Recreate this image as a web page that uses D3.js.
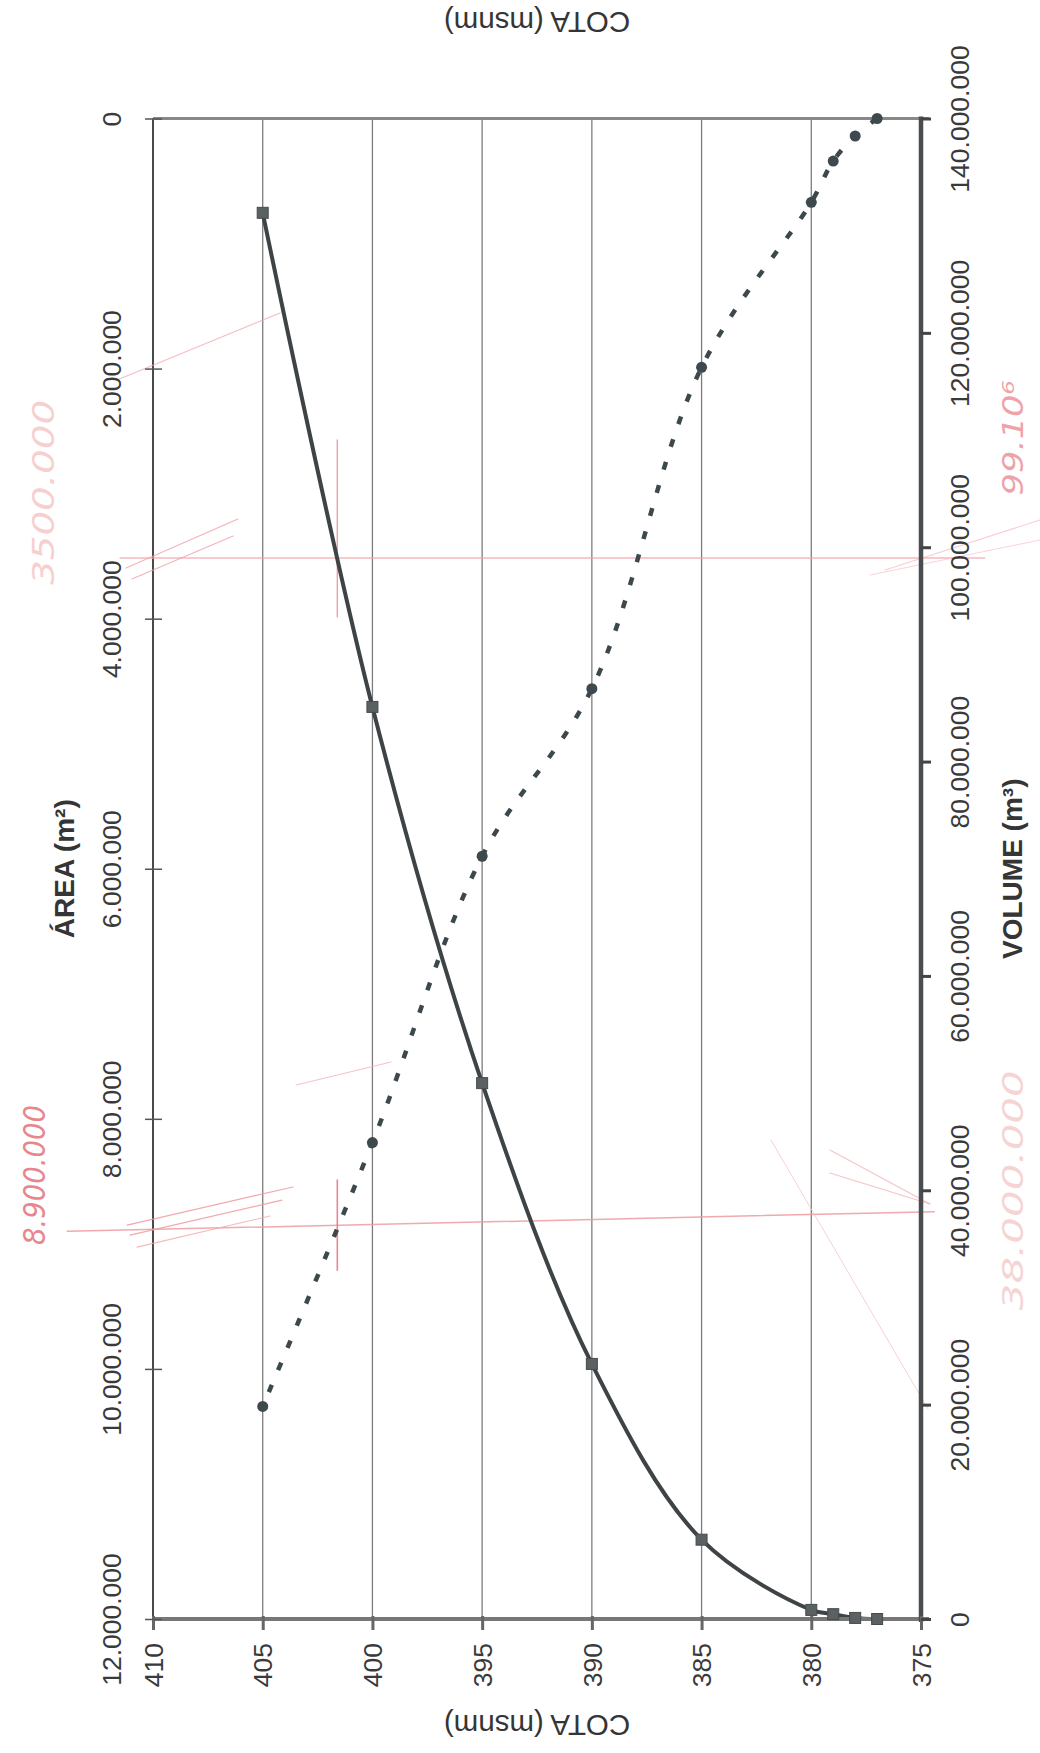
<!DOCTYPE html>
<html>
<head>
<meta charset="utf-8">
<script src="https://cdn.jsdelivr.net/npm/d3@7"></script>
<style>
  html, body { margin: 0; padding: 0; background: #fff; }
  svg { display: block; }
</style>
</head>
<body>
<svg id="chart" width="1040" height="1753"></svg>
<script>
// Curva cota x área x volume do reservatório (folha girada 90°)
const cota = [377, 378, 379, 380, 385, 390, 395, 400, 405];
const area = [0, 140000, 340000, 670000, 1990000, 4560000, 5900000, 8190000, 10300000];
const volume = [0, 100000, 450000, 850000, 7400000, 23800000, 50000000, 85100000, 131200000];

const cotaTicks = [410, 405, 400, 395, 390, 385, 380, 375];
const areaTicks = [0, 2000000, 4000000, 6000000, 8000000, 10000000, 12000000];
const volumeTicks = [0, 20000000, 40000000, 60000000, 80000000, 100000000, 120000000, 140000000];

// Anotações à caneta: leitura na cota 401,6
const notaCota = 401.6;
const notaArea = 8900000;
const notaVolume = 99000000;
const notaVolumeDireita = 38000000;
const notaTextos = ["8.900.000", "3500.000", "99.10⁶", "38.000.000"];

const svg = d3.select("#chart");
const W = 1040, H = 1753;
const pL = 153, pR = 921, pT = 118.5, pB = 1619;

const x = d3.scaleLinear().domain([410, 375]).range([pL, pR]);
const yArea = d3.scaleLinear().domain([0, 12000000]).range([pT, pB]);
const yVol = d3.scaleLinear().domain([0, 140000000]).range([pB, pT]);

const fmt = d3.formatLocale({ decimal: ",", thousands: ".", grouping: [3], currency: ["", ""] }).format(",d");

svg.append("rect").attr("width", W).attr("height", H).attr("fill", "#fff");

// grade vertical nas cotas
svg.append("g").selectAll("line")
  .data(cotaTicks.filter(d => d !== 410 && d !== 375))
  .join("line")
  .attr("x1", d => x(d)).attr("x2", d => x(d))
  .attr("y1", pT).attr("y2", pB)
  .attr("stroke", "#7c7c7c").attr("stroke-width", 1.3);

// bordas da área de plotagem
svg.append("line").attr("x1", pL).attr("x2", pL).attr("y1", pT).attr("y2", pB)
  .attr("stroke", "#4a4a4a").attr("stroke-width", 2);
svg.append("line").attr("x1", pL).attr("x2", pR + 8).attr("y1", pT).attr("y2", pT)
  .attr("stroke", "#888").attr("stroke-width", 3);

// anotações em vermelho
const pen = svg.append("g").attr("fill", "none").attr("stroke-linecap", "round");
const P = (c, a) => [x(c), yArea(a)];
const PV = (c, v) => [x(c), yVol(v)];
const pline = d3.line();
const penStrokes = [
  { pts: [PV(411.5, notaVolume), PV(372.1, notaVolume)], c: "#f2a6ab", w: 1.4, o: 0.8 },
  { pts: [P(413.9, notaArea), PV(374.4, notaVolumeDireita)], c: "#ee9aa0", w: 1.5, o: 0.85 },
  { pts: [PV(notaCota, 110000000), PV(notaCota, 93500000)], c: "#e9878e", w: 1.4, o: 0.8 },
  { pts: [P(notaCota, 8490000), P(notaCota, 9210000)], c: "#e57a82", w: 1.6, o: 0.9 },
  { pts: [P(411.23, 3595000), P(406.13, 3203000)], c: "#f0a0a6", w: 1.2, o: 0.8 },
  { pts: [P(410.96, 3683000), P(406.35, 3339000)], c: "#f0a0a6", w: 1.2, o: 0.8 },
  { pts: [P(411.64, 2091000), P(404.21, 1555000)], c: "#f2aab0", w: 1.2, o: 0.75 },
  { pts: [P(411.18, 8850000), P(403.62, 8545000)], c: "#ee9aa0", w: 1.2, o: 0.85 },
  { pts: [P(411.05, 8930000), P(404.12, 8650000)], c: "#ee9aa0", w: 1.2, o: 0.85 },
  { pts: [P(410.73, 9026000), P(404.67, 8777000)], c: "#f0a8ad", w: 1.1, o: 0.8 },
  { pts: [P(403.48, 7730000), P(399.15, 7545000)], c: "#f2b0b4", w: 1.1, o: 0.75 },
  { pts: [P(376.64, 3611000), P(369.58, 3211000)], c: "#f4b8bc", w: 1.1, o: 0.7 },
  { pts: [P(377.32, 3651000), P(369.58, 3371000)], c: "#f4b8bc", w: 1.1, o: 0.6 },
  { pts: [P(379.15, 8249000), P(374.59, 8681000)], c: "#f2b0b4", w: 1.1, o: 0.75 },
  { pts: [P(379.15, 8433000), P(374.59, 8681000)], c: "#f2b0b4", w: 1.1, o: 0.75 },
  { pts: [P(381.84, 8169000), P(374.68, 10320000)], c: "#f4bcc0", w: 1.0, o: 0.7 }
];
pen.selectAll("path").data(penStrokes).join("path")
  .attr("d", d => pline(d.pts))
  .attr("stroke", d => d.c).attr("stroke-width", d => d.w).attr("opacity", d => d.o);

const penText = svg.append("g")
  .attr("font-family", "'DejaVu Sans', sans-serif")
  .attr("font-style", "italic")
  .attr("font-weight", 200);
const penLabels = [
  { t: notaTextos[0], p: P(415.4, 8450000), c: "#e8868d", len: 140, s: 30 },
  { t: notaTextos[1], p: P(415.0, 2990000), c: "#f6cfcf", len: 185, s: 30 },
  { t: notaTextos[2], p: PV(370.8, 110200000), c: "#eea3a8", len: 115, s: 28 },
  { t: notaTextos[3], p: PV(370.8, 40000000), c: "#f6d4d4", len: 240, s: 28 }
];
penText.selectAll("text").data(penLabels).join("text")
  .attr("transform", d => `translate(${d.p[0]},${d.p[1]}) rotate(-90)`)
  .attr("text-anchor", "middle")
  .attr("dy", "0.35em")
  .attr("font-size", d => d.s)
  .attr("textLength", d => d.len)
  .attr("lengthAdjust", "spacingAndGlyphs")
  .attr("fill", d => d.c)
  .text(d => d.t);

// séries
const pts = cota.map((c, i) => ({ c, a: area[i], v: volume[i] }));
const lineVol = d3.line().x(d => x(d.c)).y(d => yVol(d.v)).curve(d3.curveCatmullRom.alpha(0.5));
const lineArea = d3.line().x(d => x(d.c)).y(d => yArea(d.a)).curve(d3.curveCatmullRom.alpha(0.5));

svg.append("path").datum(pts).attr("d", lineVol)
  .attr("fill", "none").attr("stroke", "#3e4446").attr("stroke-width", 4);
svg.append("path").datum(pts).attr("d", lineArea)
  .attr("fill", "none").attr("stroke", "#3d484c").attr("stroke-width", 4.5)
  .attr("stroke-dasharray", "8,16");

// eixo inferior das cotas
svg.append("line").attr("x1", pL).attr("x2", pR + 8).attr("y1", pB).attr("y2", pB)
  .attr("stroke", "#777").attr("stroke-width", 4);
// eixo direito do volume
svg.append("line").attr("x1", pR).attr("x2", pR).attr("y1", pT - 2).attr("y2", pB + 3)
  .attr("stroke", "#4a4d4f").attr("stroke-width", 4.5);

svg.selectAll("rect.sq").data(pts).join("rect").attr("class", "sq")
  .attr("x", d => x(d.c) - 5.5).attr("y", d => yVol(d.v) - 5.5)
  .attr("width", 11).attr("height", 11)
  .attr("fill", "#5b6062").attr("stroke", "#474b4d").attr("stroke-width", 1);
svg.selectAll("circle.pt").data(pts).join("circle").attr("class", "pt")
  .attr("cx", d => x(d.c)).attr("cy", d => yArea(d.a)).attr("r", 5.5)
  .attr("fill", "#3d494d");

const labelFont = "'Liberation Sans', Arial, sans-serif";

// eixo das cotas
const gx = svg.append("g").attr("transform", `translate(0,${pB})`)
  .call(d3.axisBottom(x).tickValues(cotaTicks).tickFormat(d3.format("d")).tickSize(11));
gx.select(".domain").remove();
gx.selectAll(".tick line").attr("y1", -3).attr("stroke", "#666").attr("stroke-width", 3);
gx.selectAll(".tick text")
  .attr("x", null).attr("y", null).attr("dy", "0.35em")
  .attr("transform", "translate(0,24) rotate(-90)")
  .attr("text-anchor", "end");

// eixo da área
const ga = svg.append("g").attr("transform", `translate(${pL},0)`)
  .call(d3.axisLeft(yArea).tickValues(areaTicks).tickFormat(fmt).tickSize(8));
ga.select(".domain").remove();
ga.selectAll(".tick line").attr("x1", 9).attr("stroke", "#555").attr("stroke-width", 1.5);
ga.selectAll(".tick text")
  .attr("x", null).attr("y", null).attr("dy", "0.35em")
  .attr("transform", "translate(-41,0) rotate(-90)")
  .attr("text-anchor", "middle");

// eixo do volume
const gv = svg.append("g").attr("transform", `translate(${pR},0)`)
  .call(d3.axisRight(yVol).tickValues(volumeTicks).tickFormat(fmt).tickSize(10));
gv.select(".domain").remove();
gv.selectAll(".tick line").attr("stroke", "#444").attr("stroke-width", 3);
gv.selectAll(".tick text")
  .attr("x", null).attr("y", null).attr("dy", "0.35em")
  .attr("transform", "translate(39,0) rotate(-90)")
  .attr("text-anchor", "middle");

svg.selectAll(".tick text")
  .attr("font-family", labelFont).attr("font-size", 26.5).attr("fill", "#3a3a3a");

// títulos dos eixos
const cx = (pL + pR) / 2, cy = (pT + pB) / 2;
const titles = [
  { t: "COTA (msnm)", px: cx, py: 22, rot: 180, bold: false },
  { t: "COTA (msnm)", px: cx, py: 1725, rot: 180, bold: false },
  { t: "ÁREA (m²)", px: 64, py: cy, rot: -90, bold: true },
  { t: "VOLUME (m³)", px: 1012, py: cy, rot: -90, bold: true }
];
svg.append("g").selectAll("text").data(titles).join("text")
  .attr("transform", d => `translate(${d.px},${d.py}) rotate(${d.rot})`)
  .attr("text-anchor", "middle").attr("dy", "0.35em")
  .attr("font-family", labelFont)
  .attr("font-size", d => d.bold ? 28 : 29.5)
  .attr("font-weight", d => d.bold ? "bold" : "normal")
  .attr("fill", "#353535")
  .text(d => d.t);
</script>
</body>
</html>
